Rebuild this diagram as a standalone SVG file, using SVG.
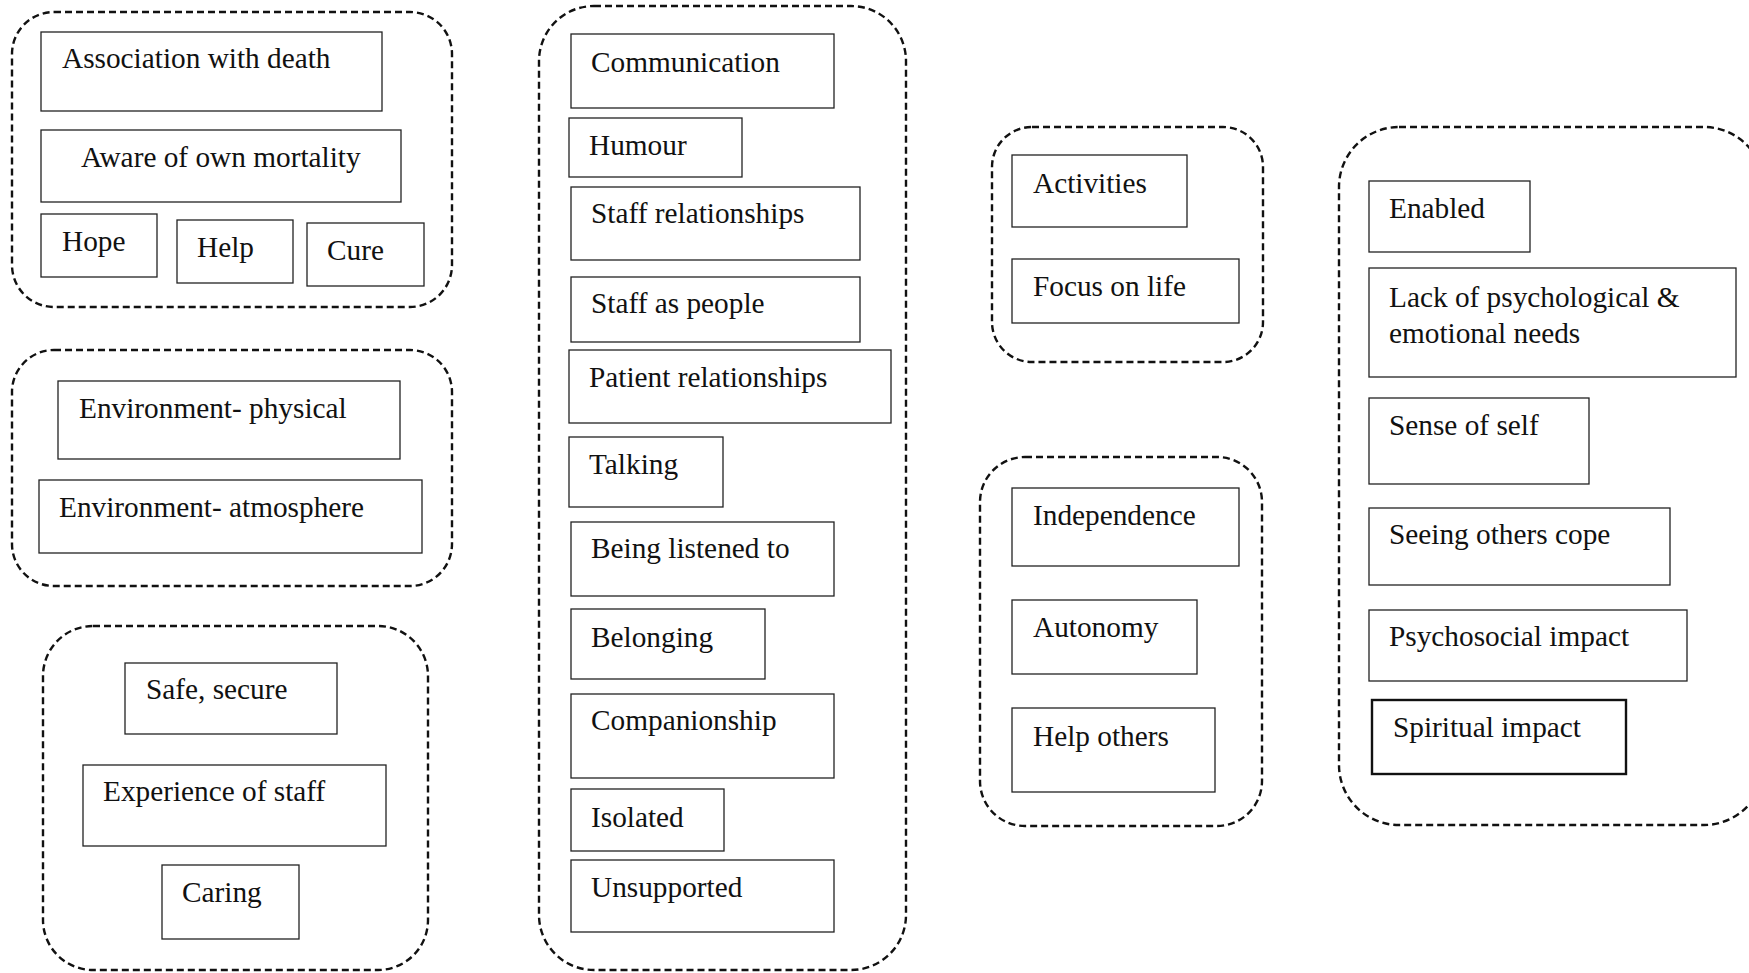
<svg xmlns="http://www.w3.org/2000/svg" width="1749" height="973" viewBox="0 0 1749 973">
<style>
.grp{fill:none;stroke:#111;stroke-width:2.4;stroke-dasharray:7 4}
.box{fill:#fff;stroke:#222;stroke-width:1.3}
.thick{stroke-width:2.4;stroke:#111}
text{font-family:"Liberation Serif","Times New Roman",serif;font-size:29.3px;fill:#111}
</style>
<rect width="1749" height="973" fill="#fff"/>
<g id="groups">
<rect id="grp1" class="grp" x="12" y="12" width="440" height="295" rx="42"/>
<rect id="grp2" class="grp" x="12" y="350" width="440" height="236" rx="42"/>
<rect id="grp3" class="grp" x="43" y="626" width="385" height="344" rx="50"/>
<rect id="grp4" class="grp" x="539" y="6" width="367" height="964" rx="55"/>
<rect id="grp5" class="grp" x="992" y="127" width="271" height="235" rx="40"/>
<rect id="grp6" class="grp" x="980" y="457" width="282" height="369" rx="45"/>
<rect id="grp7" class="grp" x="1339" y="127" width="425" height="698" rx="60"/>
</g>
<g id="connectors"></g>
<g id="n-assoc"><rect class="box" x="41" y="32" width="341" height="79"/><text x="62" y="68">Association with death</text></g>
<g id="n-aware"><rect class="box" x="41" y="130" width="360" height="72"/><text x="81" y="167">Aware of own mortality</text></g>
<g id="n-hope"><rect class="box" x="41" y="214" width="116" height="63"/><text x="62" y="251">Hope</text></g>
<g id="n-help"><rect class="box" x="177" y="220" width="116" height="63"/><text x="197" y="257">Help</text></g>
<g id="n-cure"><rect class="box" x="307" y="223" width="117" height="63"/><text x="327" y="260">Cure</text></g>
<g id="n-envphys"><rect class="box" x="58" y="381" width="342" height="78"/><text x="79" y="418">Environment- physical</text></g>
<g id="n-envatm"><rect class="box" x="39" y="480" width="383" height="73"/><text x="59" y="517">Environment- atmosphere</text></g>
<g id="n-safe"><rect class="box" x="125" y="663" width="212" height="71"/><text x="146" y="699">Safe, secure</text></g>
<g id="n-exp"><rect class="box" x="83" y="765" width="303" height="81"/><text x="103" y="801">Experience of staff</text></g>
<g id="n-caring"><rect class="box" x="162" y="865" width="137" height="74"/><text x="182" y="902">Caring</text></g>
<g id="n-comm"><rect class="box" x="571" y="34" width="263" height="74"/><text x="591" y="72">Communication</text></g>
<g id="n-humour"><rect class="box" x="569" y="118" width="173" height="59"/><text x="589" y="155">Humour</text></g>
<g id="n-staffrel"><rect class="box" x="571" y="187" width="289" height="73"/><text x="591" y="223">Staff relationships</text></g>
<g id="n-staffpeople"><rect class="box" x="571" y="277" width="289" height="65"/><text x="591" y="313">Staff as people</text></g>
<g id="n-patrel"><rect class="box" x="569" y="350" width="322" height="73"/><text x="589" y="387">Patient relationships</text></g>
<g id="n-talking"><rect class="box" x="569" y="437" width="154" height="70"/><text x="589" y="474">Talking</text></g>
<g id="n-listened"><rect class="box" x="571" y="522" width="263" height="74"/><text x="591" y="558">Being listened to</text></g>
<g id="n-belonging"><rect class="box" x="571" y="609" width="194" height="70"/><text x="591" y="647">Belonging</text></g>
<g id="n-companion"><rect class="box" x="571" y="694" width="263" height="84"/><text x="591" y="730">Companionship</text></g>
<g id="n-isolated"><rect class="box" x="571" y="789" width="153" height="62"/><text x="591" y="827">Isolated</text></g>
<g id="n-unsupported"><rect class="box" x="571" y="860" width="263" height="72"/><text x="591" y="897">Unsupported</text></g>
<g id="n-activities"><rect class="box" x="1012" y="155" width="175" height="72"/><text x="1033" y="193">Activities</text></g>
<g id="n-focus"><rect class="box" x="1012" y="259" width="227" height="64"/><text x="1033" y="296">Focus on life</text></g>
<g id="n-indep"><rect class="box" x="1012" y="488" width="227" height="78"/><text x="1033" y="525">Independence</text></g>
<g id="n-autonomy"><rect class="box" x="1012" y="600" width="185" height="74"/><text x="1033" y="637">Autonomy</text></g>
<g id="n-helpothers"><rect class="box" x="1012" y="708" width="203" height="84"/><text x="1033" y="746">Help others</text></g>
<g id="n-enabled"><rect class="box" x="1369" y="181" width="161" height="71"/><text x="1389" y="218">Enabled</text></g>
<g id="n-lack"><rect class="box" x="1369" y="268" width="367" height="109"/><text x="1389" y="307">Lack of psychological &amp;</text><text x="1389" y="343">emotional needs</text></g>
<g id="n-self"><rect class="box" x="1369" y="398" width="220" height="86"/><text x="1389" y="435">Sense of self</text></g>
<g id="n-seeing"><rect class="box" x="1369" y="508" width="301" height="77"/><text x="1389" y="544">Seeing others cope</text></g>
<g id="n-psycho"><rect class="box" x="1369" y="610" width="318" height="71"/><text x="1389" y="646">Psychosocial impact</text></g>
<g id="n-spiritual"><rect class="box thick" x="1372" y="700" width="254" height="74"/><text x="1393" y="737">Spiritual impact</text></g>
</svg>
